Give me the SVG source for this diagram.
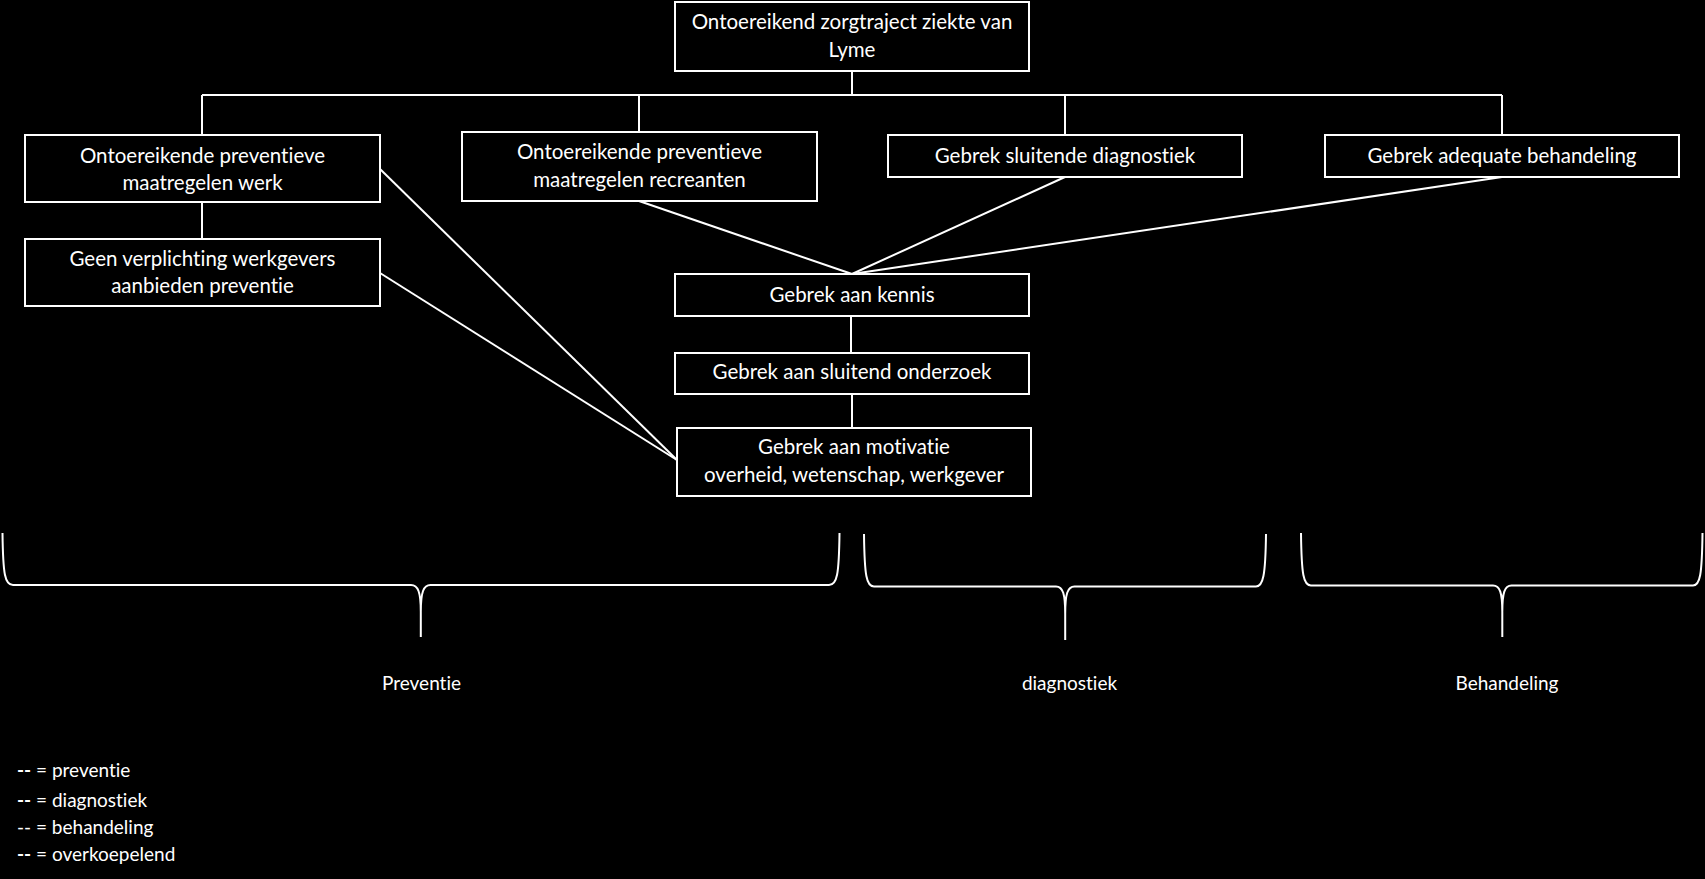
<svg xmlns="http://www.w3.org/2000/svg" width="1705" height="879" viewBox="0 0 1705 879">
<style>
text{font-variant-ligatures:none;font-feature-settings:"liga" 0,"clig" 0}
.box{fill:#000;stroke:#fff;stroke-width:2}
.t{fill:#fff;font-family:Lato,"Liberation Sans",sans-serif;font-size:20.5px;text-anchor:middle}
.lbl{fill:#fff;font-family:Lato,"Liberation Sans",sans-serif;font-size:19px;text-anchor:middle}
.leg{fill:#fff;font-family:Lato,"Liberation Sans",sans-serif;font-size:19px}
.c{stroke:#fff;stroke-width:2;fill:none}
.br{stroke:#fff;stroke-width:2;fill:none}
</style>
<rect width="1705" height="879" fill="#000"/>
<g id="connectors">
<line class="c" x1="852" y1="71" x2="852" y2="95"/>
<line class="c" x1="202" y1="95" x2="1502" y2="95"/>
<line class="c" x1="202" y1="95" x2="202" y2="135"/>
<line class="c" x1="639" y1="95" x2="639" y2="132"/>
<line class="c" x1="1065" y1="95" x2="1065" y2="135"/>
<line class="c" x1="1502" y1="95" x2="1502" y2="135"/>
<line class="c" x1="202" y1="202" x2="202" y2="239"/>
<line class="c" x1="639" y1="201" x2="852" y2="274"/>
<line class="c" x1="1065" y1="177" x2="852" y2="274"/>
<line class="c" x1="1502" y1="177" x2="852" y2="274"/>
<line class="c" x1="851" y1="316" x2="851" y2="353"/>
<line class="c" x1="852" y1="394" x2="852" y2="428"/>
<line class="c" x1="380" y1="169" x2="677" y2="460"/>
<line class="c" x1="380" y1="273" x2="677" y2="460"/>
</g>
<g id="n-top">
<rect class="box" x="675" y="2" width="354" height="69"/>
<text class="t" x="852" y="29">Ontoereikend zorgtraject ziekte van</text>
<text class="t" x="852" y="57">Lyme</text>
</g>
<g id="n-werk">
<rect class="box" x="25" y="135" width="355" height="67"/>
<text class="t" x="202.5" y="163">Ontoereikende preventieve</text>
<text class="t" x="202.5" y="190">maatregelen werk</text>
</g>
<g id="n-werkgevers">
<rect class="box" x="25" y="239" width="355" height="67"/>
<text class="t" x="202.5" y="266">Geen verplichting werkgevers</text>
<text class="t" x="202.5" y="293">aanbieden preventie</text>
</g>
<g id="n-recreanten">
<rect class="box" x="462" y="132" width="355" height="69"/>
<text class="t" x="639.5" y="159">Ontoereikende preventieve</text>
<text class="t" x="639.5" y="187">maatregelen recreanten</text>
</g>
<g id="n-diagnostiek">
<rect class="box" x="888" y="135" width="354" height="42"/>
<text class="t" x="1065" y="163">Gebrek sluitende diagnostiek</text>
</g>
<g id="n-behandeling">
<rect class="box" x="1325" y="135" width="354" height="42"/>
<text class="t" x="1502" y="163">Gebrek adequate behandeling</text>
</g>
<g id="n-kennis">
<rect class="box" x="675" y="274" width="354" height="42"/>
<text class="t" x="852" y="302">Gebrek aan kennis</text>
</g>
<g id="n-onderzoek">
<rect class="box" x="675" y="353" width="354" height="41"/>
<text class="t" x="852" y="379">Gebrek aan sluitend onderzoek</text>
</g>
<g id="n-motivatie">
<rect class="box" x="677" y="428" width="354" height="68"/>
<text class="t" x="854" y="454">Gebrek aan motivatie</text>
<text class="t" x="854" y="482">overheid, wetenschap, werkgever</text>
</g>
<g id="braces">
<path class="br" d="M2.5,533 C3,575 5,585 13,585 L411,585 C418,585 420.8,592 420.8,612 L420.8,637 M420.8,612 C420.8,592 423.5,585 430.5,585 L829,585 C837,585 839,575 839.5,533"/>
<path class="br" d="M864,534 C864.5,576 866.5,586.5 874,586.5 L1056,586.5 C1063,586.5 1065.2,594 1065.2,614 L1065.2,640 M1065.2,614 C1065.2,594 1067.5,586.5 1074.5,586.5 L1256,586.5 C1263,586.5 1265.5,576 1266,534"/>
<path class="br" d="M1301,533 C1301.5,575 1303.5,585.5 1311,585.5 L1493,585.5 C1500,585.5 1502.3,593 1502.3,612 L1502.3,637 M1502.3,612 C1502.3,593 1504.5,585.5 1511.5,585.5 L1693,585.5 C1700,585.5 1702,575 1702.5,533"/>
</g>
<g id="labels">
<text class="lbl" x="421.5" y="690">Preventie</text>
<text class="lbl" x="1069.5" y="690">diagnostiek</text>
<text class="lbl" x="1507" y="690">Behandeling</text>
</g>
<g id="legend">
<text class="leg" x="17" y="777"><tspan font-weight="bold">--</tspan> = preventie</text>
<text class="leg" x="17" y="806.5"><tspan font-weight="bold">--</tspan> = diagnostiek</text>
<text class="leg" x="17" y="834">-- = behandeling</text>
<text class="leg" x="17" y="860.5"><tspan font-weight="bold">--</tspan> = overkoepelend</text>
</g>
</svg>
